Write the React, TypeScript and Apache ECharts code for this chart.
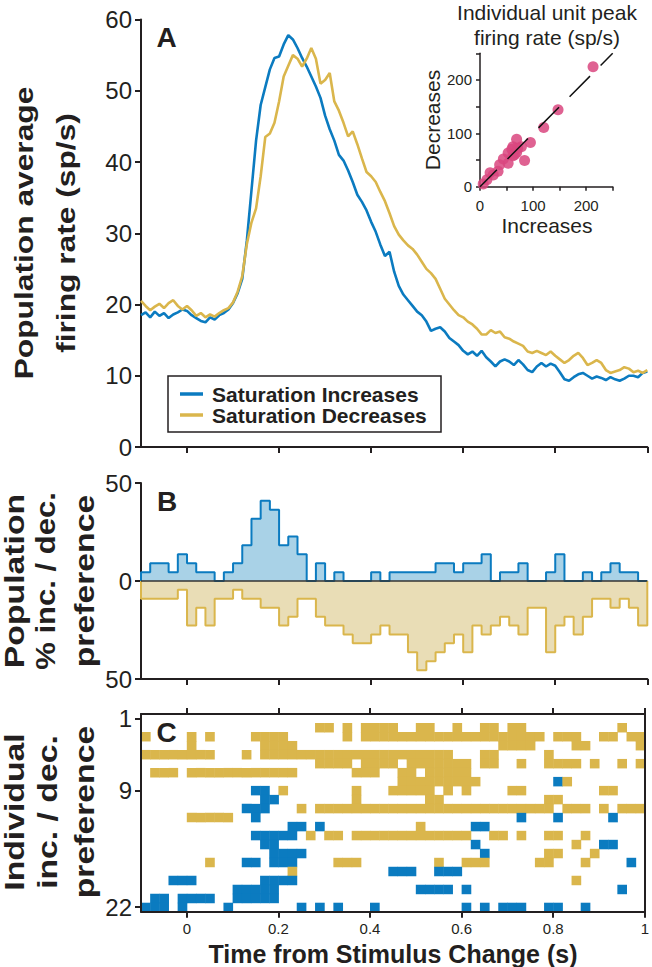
import React, { useEffect, useRef } from "react";
import * as echarts from "echarts";

const FONT = "'Liberation Sans', Arial, Helvetica, sans-serif";
const INK = "#231f20";
const BLUE = "#0b7bc0";
const GOLD = "#dab64c";
const BLUE_FILL = "#a9d2e7";
const GOLD_FILL = "#e9ddb6";
const PINK = "#d9467f";

// Panel A: population average firing rate, 10 ms samples from -0.1 s
const TIME_START = -0.1;
const TIME_STEP = 0.01;
const INC_RATE = [
  18.5, 18.9, 18.2, 19.0, 18.4, 18.8, 18.1, 18.6, 18.9, 19.3,
  19.1, 18.5, 18.1, 17.7, 17.5, 18.2, 17.9, 18.5, 18.8, 19.3,
  20.2, 21.6, 23.6, 29.0, 36.0, 43.0, 48.0, 50.5, 53.0, 54.6,
  54.8, 56.5, 57.8, 57.2, 56.0, 54.6, 53.4, 52.0, 50.6, 49.0,
  46.5, 44.6, 43.0, 41.0, 40.2, 38.8, 37.2, 35.4, 34.4, 33.2,
  31.6, 30.2, 28.4, 26.8, 27.4, 24.6, 22.6, 21.4, 20.6, 19.8,
  19.0, 18.5, 17.6, 16.3, 16.6, 16.8, 16.2, 15.3, 14.8, 14.3,
  13.5, 13.0, 13.4, 12.8, 13.5, 12.6, 12.0, 11.3, 12.0, 12.3,
  12.0, 11.5, 12.2, 11.6, 10.8, 10.5, 11.3, 11.8, 11.3, 11.7,
  11.4, 10.5, 9.5, 9.3, 9.8, 10.2, 10.4, 10.0, 9.6, 9.9,
  9.7, 9.4, 9.8, 9.5, 9.3, 9.6, 10.0, 10.0, 9.8, 10.4,
  10.6,
];
const DEC_RATE = [
  20.5, 19.8, 19.2, 19.7, 20.1, 19.5, 20.2, 20.6, 19.8, 19.3,
  19.8, 19.2, 18.4, 18.8, 18.2, 18.6, 18.3, 18.8, 19.2, 19.5,
  20.3, 21.8, 24.0, 28.5, 31.5, 33.5, 38.0, 43.5, 44.0, 45.5,
  48.5, 52.0, 53.5, 55.0, 54.5, 53.4, 54.5, 56.0, 54.5, 51.0,
  51.5, 52.5, 48.5, 47.2, 45.5, 43.6, 44.3, 42.5, 40.5, 38.6,
  38.0, 37.2, 35.8, 34.5, 32.8, 31.0, 29.8, 29.0, 28.3, 27.8,
  27.0, 26.0, 25.0, 24.4, 23.6, 22.2, 20.8, 20.0, 19.2, 18.5,
  18.2, 17.6, 17.2, 16.6, 15.8, 15.8, 16.4, 16.0, 16.2, 15.4,
  15.2, 14.8, 14.5, 14.2, 13.4, 13.2, 13.5, 13.2, 12.9, 13.4,
  12.8, 12.3, 11.8, 12.2, 12.8, 13.2, 12.5, 11.5, 11.8, 12.2,
  11.8, 10.8, 10.4, 10.6, 10.8, 11.2, 11.0, 10.5, 10.7, 10.4,
  10.8,
];

// Panel B: % of units preferring inc / dec, 20 ms bins from -0.1 s
const BIN_START = -0.1;
const BIN_WIDTH = 0.02;
const INC_PCT = [
  4.5, 9.1, 9.1, 4.5, 13.6, 9.1, 4.5, 4.5, 0, 4.5,
  9.1, 18.2, 31.8, 40.9, 36.4, 18.2, 22.7, 13.6, 0, 9.1,
  0, 4.5, 0, 0, 0, 4.5, 0, 4.5, 4.5, 4.5,
  4.5, 4.5, 9.1, 9.1, 4.5, 9.1, 9.1, 13.6, 0, 4.5,
  4.5, 9.1, 0, 0, 4.5, 13.6, 0, 0, 4.5, 0,
  4.5, 9.1, 4.5, 4.5, 0,
];
const DEC_PCT = [
  9.1, 9.1, 9.1, 9.1, 4.5, 22.7, 13.6, 22.7, 9.1, 9.1,
  4.5, 9.1, 9.1, 13.6, 13.6, 22.7, 18.2, 9.1, 9.1, 18.2,
  22.7, 22.7, 27.3, 31.8, 31.8, 27.3, 22.7, 27.3, 27.3, 36.4,
  45.5, 40.9, 36.4, 31.8, 27.3, 36.4, 22.7, 27.3, 22.7, 18.2,
  22.7, 27.3, 13.6, 13.6, 36.4, 22.7, 18.2, 27.3, 18.2, 9.1,
  9.1, 13.6, 9.1, 13.6, 22.7,
];

// Panel C: individual unit preference, [row, firstBin, lastBin, kind] kind 1 = dec, 2 = inc
const UNIT_SEGMENTS = [
  [2, 19, 20, 1], [2, 22, 22, 1], [2, 24, 27, 1], [2, 30, 31, 1], [2, 34, 34, 1], [2, 37, 38, 1], [2, 40, 41, 1], [2, 52, 52, 1],
  [3, 0, 0, 1], [3, 5, 5, 1], [3, 7, 7, 1], [3, 12, 15, 1], [3, 22, 22, 1], [3, 24, 43, 1], [3, 45, 47, 1], [3, 50, 51, 1], [3, 53, 54, 1],
  [4, 5, 5, 1], [4, 13, 16, 1], [4, 39, 42, 1], [4, 47, 48, 1], [4, 54, 54, 1],
  [5, 0, 7, 1], [5, 11, 11, 1], [5, 13, 33, 1], [5, 37, 38, 1], [5, 44, 44, 1],
  [6, 19, 22, 1], [6, 24, 27, 1], [6, 29, 35, 1], [6, 37, 38, 1], [6, 41, 41, 1], [6, 44, 47, 1], [6, 49, 49, 1], [6, 52, 52, 1], [6, 54, 54, 1],
  [7, 1, 3, 1], [7, 5, 16, 1], [7, 23, 25, 1], [7, 28, 29, 1], [7, 31, 35, 1],
  [8, 28, 36, 1], [8, 45, 45, 2], [8, 46, 46, 1],
  [9, 12, 13, 2], [9, 15, 15, 1], [9, 23, 23, 1], [9, 27, 31, 1], [9, 33, 33, 1], [9, 35, 35, 1], [9, 40, 41, 1], [9, 50, 51, 1],
  [10, 13, 14, 2], [10, 23, 23, 1], [10, 31, 32, 1], [10, 44, 45, 1],
  [11, 11, 13, 2], [11, 17, 17, 1], [11, 19, 44, 1], [11, 46, 48, 1], [11, 50, 50, 1], [11, 52, 54, 1],
  [12, 5, 9, 1], [12, 12, 12, 2], [12, 41, 41, 2], [12, 45, 45, 2], [12, 51, 51, 2],
  [13, 16, 17, 2], [13, 19, 19, 2], [13, 30, 30, 1], [13, 36, 37, 2],
  [14, 12, 16, 2], [14, 18, 18, 1], [14, 20, 21, 1], [14, 23, 35, 1], [14, 38, 39, 1], [14, 41, 41, 1], [14, 44, 45, 1], [14, 48, 48, 1],
  [15, 13, 14, 2], [15, 36, 36, 2], [15, 47, 47, 1], [15, 50, 51, 2],
  [16, 14, 17, 2], [16, 37, 37, 2], [16, 44, 45, 1], [16, 49, 49, 1],
  [17, 7, 7, 1], [17, 11, 12, 2], [17, 14, 16, 2], [17, 21, 23, 1], [17, 32, 32, 1], [17, 35, 37, 1], [17, 43, 44, 1], [17, 48, 48, 1], [17, 53, 53, 2],
  [18, 16, 16, 1], [18, 27, 29, 2], [18, 32, 34, 2],
  [19, 3, 5, 2], [19, 13, 16, 2], [19, 47, 47, 1],
  [20, 10, 14, 2], [20, 30, 33, 2], [20, 35, 35, 2], [20, 52, 52, 2],
  [21, 1, 2, 2], [21, 4, 7, 2], [21, 10, 14, 2],
  [22, 0, 2, 2], [22, 4, 4, 2], [22, 9, 9, 2], [22, 17, 17, 2], [22, 19, 19, 2], [22, 21, 21, 2], [22, 25, 25, 2], [22, 35, 35, 2], [22, 37, 37, 2], [22, 39, 41, 2], [22, 44, 45, 2], [22, 48, 48, 2],
];

// Inset: individual unit peak firing rate
const PEAK_INC = [213, 147, 120, 95, 69, 84, 78, 62, 60, 53, 65, 44, 53, 37, 34, 19, 13, 6, 62, 69, 71, 25];
const PEAK_DEC = [225, 144, 111, 83, 89, 49, 75, 75, 70, 63, 60, 52, 44, 41, 29, 26, 13, 5, 58, 64, 72, 22];

const TIME_TICKS = [0, 0.2, 0.4, 0.6, 0.8, 1];
const PCT_TICKS = [-50, 0, 50];
const UNIT_TICKS = [1, 9, 22];
const PEAK_LABELS = [0, 100, 200];

const axisLine = { show: true, onZero: false, lineStyle: { color: INK, width: 2 } };
const thinAxisLine = { show: true, onZero: false, lineStyle: { color: INK, width: 1.5 } };
const tickStyle = { color: INK, width: 2 };

function timeAxis(gridIndex: number, labels: boolean, position = "bottom") {
  return {
    type: "value",
    gridIndex,
    position,
    min: -0.1,
    max: 1,
    z: 10,
    axisLine,
    axisTick: { show: true, length: 6, lineStyle: tickStyle, customValues: TIME_TICKS },
    axisLabel: labels
      ? { show: true, customValues: TIME_TICKS, fontSize: 15, margin: 9, color: INK, fontFamily: FONT }
      : { show: false },
    splitLine: { show: false },
  };
}

function vText(text: string, x: number, y: number, size: number, weight: string, scale: number) {
  return {
    type: "text",
    x,
    y,
    rotation: Math.PI / 2,
    scaleX: scale,
    style: {
      text,
      font: `${weight} ${size}px ${FONT}`,
      fill: INK,
      textAlign: "center",
      textVerticalAlign: "middle",
      align: "center",
      verticalAlign: "middle",
    },
  };
}

function hText(text: string, x: number, y: number, size: number, weight: string, align = "center") {
  return {
    type: "text",
    x,
    y,
    style: {
      text,
      font: `${weight} ${size}px ${FONT}`,
      fill: INK,
      textAlign: align,
      textVerticalAlign: "middle",
      align,
      verticalAlign: "middle",
    },
  };
}

export default function App() {
  const ref = useRef<HTMLDivElement>(null);

  useEffect(() => {
    if (!ref.current) return;
    const chart = echarts.init(ref.current, null, { renderer: "svg", width: 652, height: 967 });

    const times = INC_RATE.map((_, i) => +(TIME_START + TIME_STEP * i).toFixed(3));
    const incLine = INC_RATE.map((v, i) => [times[i], v]);
    const decLine = DEC_RATE.map((v, i) => [times[i], v]);

    const binT = (k: number) => +(BIN_START + BIN_WIDTH * k).toFixed(3);
    const incSteps = [[BIN_START, 0], ...INC_PCT.map((v, k) => [binT(k), v]), [1, INC_PCT[INC_PCT.length - 1]], [1, 0]];
    const decSteps = [[BIN_START, 0], ...DEC_PCT.map((v, k) => [binT(k), -v]), [1, -DEC_PCT[DEC_PCT.length - 1]], [1, 0]];

    const cells: number[][] = [];
    UNIT_SEGMENTS.forEach(([row, k0, k1, kind]) => {
      for (let k = k0; k <= k1; k++) cells.push([binT(k), row, kind]);
    });

    const peaks = PEAK_INC.map((v, i) => [v, PEAK_DEC[i]]);

    const option: any = {
      animation: false,
      backgroundColor: "#ffffff",
      textStyle: { fontFamily: FONT },
      grid: [
        { left: 141, top: 19.5, width: 506.3, height: 427.5 },
        { left: 480, top: 53.3, width: 132.7, height: 133.4 },
        { left: 141, top: 483, width: 506.3, height: 196 },
        { left: 141, top: 714, width: 506.3, height: 197.7 },
      ],
      xAxis: [
        timeAxis(0, false),
        {
          type: "value",
          gridIndex: 1,
          min: 0,
          max: 250,
          interval: 50,
          axisLine: thinAxisLine,
          axisTick: { show: true, length: 4, lineStyle: { color: INK, width: 1.5 } },
          axisLabel: { show: true, customValues: PEAK_LABELS, fontSize: 15, margin: 11, color: INK, fontFamily: FONT },
          splitLine: { show: false },
        },
        timeAxis(2, false),
        timeAxis(3, true, "bottom"),
        timeAxis(3, false, "top"),
      ],
      yAxis: [
        {
          type: "value",
          gridIndex: 0,
          min: 0,
          max: 60,
          interval: 10,
          axisLine,
          axisTick: { show: true, length: 6, lineStyle: tickStyle },
          axisLabel: { fontSize: 24, margin: 9, color: INK, fontFamily: FONT },
          splitLine: { show: false },
        },
        {
          type: "value",
          gridIndex: 1,
          min: 0,
          max: 250,
          interval: 50,
          axisLine: thinAxisLine,
          axisTick: { show: true, length: 4, lineStyle: { color: INK, width: 1.5 } },
          axisLabel: { show: true, customValues: PEAK_LABELS, fontSize: 15, margin: 8, color: INK, fontFamily: FONT },
          splitLine: { show: false },
        },
        {
          type: "value",
          gridIndex: 2,
          min: -50,
          max: 50,
          axisLine,
          axisTick: { show: true, length: 6, lineStyle: tickStyle, customValues: PCT_TICKS },
          axisLabel: {
            customValues: PCT_TICKS,
            fontSize: 24,
            margin: 9,
            color: INK,
            fontFamily: FONT,
            formatter: (v: number) => String(Math.abs(v)),
          },
          splitLine: { show: false },
        },
        {
          type: "value",
          gridIndex: 3,
          min: 0.5,
          max: 22.5,
          inverse: true,
          z: 10,
          axisLine,
          axisTick: { show: true, length: 6, lineStyle: tickStyle, customValues: UNIT_TICKS },
          axisLabel: { customValues: UNIT_TICKS, fontSize: 24, margin: 9, color: INK, fontFamily: FONT },
          splitLine: { show: false },
        },
        {
          type: "value",
          gridIndex: 3,
          position: "right",
          min: 0.5,
          max: 22.5,
          inverse: true,
          z: 10,
          axisLine,
          axisTick: { show: false },
          axisLabel: { show: false },
          splitLine: { show: false },
        },
      ],
      series: [
        {
          name: "Saturation Increases",
          type: "line",
          xAxisIndex: 0,
          yAxisIndex: 0,
          data: incLine,
          showSymbol: false,
          lineStyle: { color: BLUE, width: 2.6 },
          z: 3,
        },
        {
          name: "Saturation Decreases",
          type: "line",
          xAxisIndex: 0,
          yAxisIndex: 0,
          data: decLine,
          showSymbol: false,
          lineStyle: { color: GOLD, width: 2.6 },
          z: 4,
        },
        {
          name: "Peak rates",
          type: "scatter",
          xAxisIndex: 1,
          yAxisIndex: 1,
          data: peaks,
          symbolSize: 11,
          itemStyle: { color: PINK, opacity: 0.85 },
          z: 3,
        },
        {
          name: "Unity",
          type: "line",
          xAxisIndex: 1,
          yAxisIndex: 1,
          data: [[0, 0], [250, 250]],
          showSymbol: false,
          lineStyle: { color: "#111", width: 1.5, type: [29, 15], dashOffset: 5 },
          z: 4,
        },
        {
          name: "Inc preference",
          type: "line",
          xAxisIndex: 2,
          yAxisIndex: 2,
          data: incSteps,
          step: "end",
          showSymbol: false,
          lineStyle: { color: BLUE, width: 2 },
          areaStyle: { color: BLUE_FILL, opacity: 1, origin: "auto" },
          z: 3,
        },
        {
          name: "Dec preference",
          type: "line",
          xAxisIndex: 2,
          yAxisIndex: 2,
          data: decSteps,
          step: "end",
          showSymbol: false,
          lineStyle: { color: GOLD, width: 2 },
          areaStyle: { color: GOLD_FILL, opacity: 1, origin: "auto" },
          z: 3,
        },
        {
          name: "Zero",
          type: "line",
          xAxisIndex: 2,
          yAxisIndex: 2,
          data: [[-0.1, 0], [1, 0]],
          showSymbol: false,
          lineStyle: { color: "#333", width: 1.5 },
          z: 5,
        },
        {
          name: "Units",
          type: "custom",
          xAxisIndex: 3,
          yAxisIndex: 3,
          data: cells,
          encode: { x: 0, y: 1 },
          z: 2,
          renderItem: (_params: any, api: any) => {
            const t0 = api.value(0);
            const row = api.value(1);
            const kind = api.value(2);
            const p0 = api.coord([t0, row - 0.5]);
            const p1 = api.coord([t0 + BIN_WIDTH, row + 0.5]);
            return {
              type: "rect",
              shape: {
                x: p0[0],
                y: Math.min(p0[1], p1[1]),
                width: p1[0] - p0[0] + 0.5,
                height: Math.abs(p1[1] - p0[1]) + 0.5,
              },
              style: { fill: kind === 2 ? BLUE : GOLD },
            };
          },
        },
      ],
      graphic: [
        // y-axis titles
        vText("Population average", 24.5, 233, 26, "bold", 1.22),
        vText("firing rate (sp/s)", 66.5, 233, 26, "bold", 1.22),
        vText("Population", 14.5, 581, 27, "bold", 1.25),
        vText("% inc. / dec.", 45.5, 581, 27, "bold", 1.15),
        vText("preference", 84.5, 581, 27, "bold", 1.25),
        vText("Individual", 14.5, 812, 27, "bold", 1.25),
        vText("inc. / dec.", 47, 812, 27, "bold", 1.25),
        vText("preference", 84.5, 812, 27, "bold", 1.25),
        // x-axis title
        hText("Time from Stimulus Change (s)", 393, 953.5, 25, "bold"),
        // panel letters
        hText("A", 166.5, 37, 28, "bold"),
        hText("B", 167, 501, 28, "bold"),
        hText("C", 166.5, 732, 28, "bold"),
        // inset titles
        hText("Individual unit peak", 547, 12, 21, "normal"),
        hText("firing rate (sp/s)", 547, 37.5, 21, "normal"),
        hText("Increases", 547, 225, 21, "normal"),
        vText("Decreases", 432, 120, 21, "normal", 1),
        // legend
        {
          type: "rect",
          shape: { x: 168, y: 376, width: 273, height: 56 },
          style: { fill: "#ffffff", stroke: INK, lineWidth: 1.5 },
        },
        {
          type: "line",
          shape: { x1: 180, y1: 394, x2: 203, y2: 394 },
          style: { stroke: BLUE, lineWidth: 3.5 },
        },
        {
          type: "line",
          shape: { x1: 180, y1: 415, x2: 203, y2: 415 },
          style: { stroke: GOLD, lineWidth: 3.5 },
        },
        hText("Saturation Increases", 212, 394, 21, "bold", "left"),
        hText("Saturation Decreases", 212, 415, 21, "bold", "left"),
      ],
    };

    chart.setOption(option);
    return () => chart.dispose();
  }, []);

  return (
    <div
      ref={ref}
      style={{ position: "fixed", left: 0, top: 0, width: 652, height: 967, background: "#fff" }}
    />
  );
}
